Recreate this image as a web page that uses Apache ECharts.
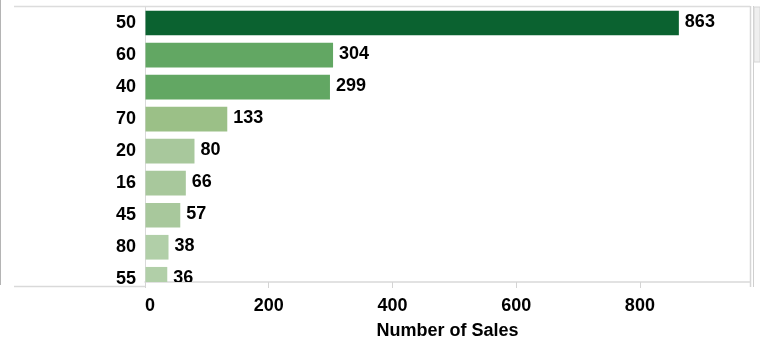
<!DOCTYPE html>
<html>
<head>
<meta charset="utf-8">
<script src="https://cdn.jsdelivr.net/npm/echarts@6/dist/echarts.min.js"></script>
<style>
html,body{margin:0;padding:0;background:#fff;}
#chart{width:760px;height:345px;}
</style>
</head>
<body>
<div id="chart"></div>
<script>
const categories = ['50', '60', '40', '70', '20', '16', '45', '80', '55'];
const sales = [863, 304, 299, 133, 80, 66, 57, 38, 36];
const xTicks = [0, 200, 400, 600, 800];
const xAxisTitle = 'Number of Sales';

const FONT = '"Liberation Sans", Arial, sans-serif';
const chart = echarts.init(document.getElementById('chart'), null, {renderer: 'canvas'});

const option = {
  animation: false,
  backgroundColor: '#fff',
  grid: {left: 145, right: 10, top: 7, bottom: 59, containLabel: false},
  visualMap: {
    type: 'piecewise', show: false, dimension: 0, seriesIndex: 0,
    pieces: [
      {min: 500, color: '#0b6230'},
      {min: 200, max: 500, color: '#62a763'},
      {min: 100, max: 200, color: '#9bc087'},
      {min: 50, max: 100, color: '#a8c89c'},
      {max: 50, color: '#b1cfa8'}
    ]
  },
  xAxis: {
    type: 'value', min: 0, max: 978,
    axisLine: {show: true, onZero: false, lineStyle: {color: '#d9d9d9', width: 1.5}},
    axisTick: {show: true, customValues: xTicks, length: 6, lineStyle: {color: '#d4d4d4'}},
    axisLabel: {customValues: xTicks, color: '#000', fontFamily: FONT, fontWeight: 'bold', fontSize: 18, margin: 15, alignMinLabel: 'left'},
    splitLine: {show: false},
    name: xAxisTitle, nameLocation: 'middle', nameGap: 40,
    nameTextStyle: {color: '#000', fontFamily: FONT, fontWeight: 'bold', fontSize: 18}
  },
  yAxis: {
    type: 'value', inverse: true, min: -0.5, max: 8.085,
    axisLine: {show: true, onZero: false, lineStyle: {color: '#d9d9d9', width: 1}},
    axisTick: {show: false},
    splitLine: {show: false},
    axisLabel: {
      customValues: categories.map((c, i) => i),
      formatter: v => categories[v],
      color: '#000', fontFamily: FONT, fontWeight: 'bold', fontSize: 18, margin: 9
    }
  },
  series: [{
    type: 'custom',
    clip: true,
    data: sales.map((v, i) => [v, i]),
    encode: {x: 0, y: 1},
    renderItem: function (params, api) {
      const v = api.value(0), idx = api.value(1);
      const s = api.coord([0, idx]);
      const e = api.coord([v, idx]);
      const h = api.size([0, 1])[1] * 0.77;
      return {
        type: 'group',
        children: [
          {type: 'rect', shape: {x: s[0] + 0.5, y: s[1] - h / 2, width: e[0] - s[0] - 0.5, height: h},
           style: {fill: api.visual('color')}},
          {type: 'text', x: e[0] + 6, y: e[1] - 1,
           style: {text: String(v), fill: '#000', font: 'bold 18px ' + FONT, verticalAlign: 'middle', align: 'left'}}
        ]
      };
    }
  }],
  graphic: [
    {type: 'line', shape: {x1: 14, y1: 6.5, x2: 750, y2: 6.5}, style: {stroke: '#dcdcdc', lineWidth: 1.5}, silent: true},
    {type: 'line', shape: {x1: 14, y1: 286.5, x2: 145, y2: 286.5}, style: {stroke: '#d9d9d9', lineWidth: 1.5}, silent: true},
    {type: 'line', shape: {x1: 750.5, y1: 6, x2: 750.5, y2: 287}, style: {stroke: '#d6d6d6', lineWidth: 1.5}, silent: true},
    {type: 'line', shape: {x1: 753.5, y1: 6, x2: 753.5, y2: 287}, style: {stroke: '#cfcfcf', lineWidth: 1}, silent: true},
    {type: 'rect', shape: {x: 754, y: 7, width: 6, height: 55}, style: {fill: '#efefef', stroke: '#d6d6d6', lineWidth: 1}, silent: true},
    {type: 'line', shape: {x1: 0.5, y1: 0, x2: 0.5, y2: 285}, style: {stroke: '#b4b4b4', lineWidth: 1}, silent: true}
  ]
};
chart.setOption(option);
</script>
</body>
</html>
